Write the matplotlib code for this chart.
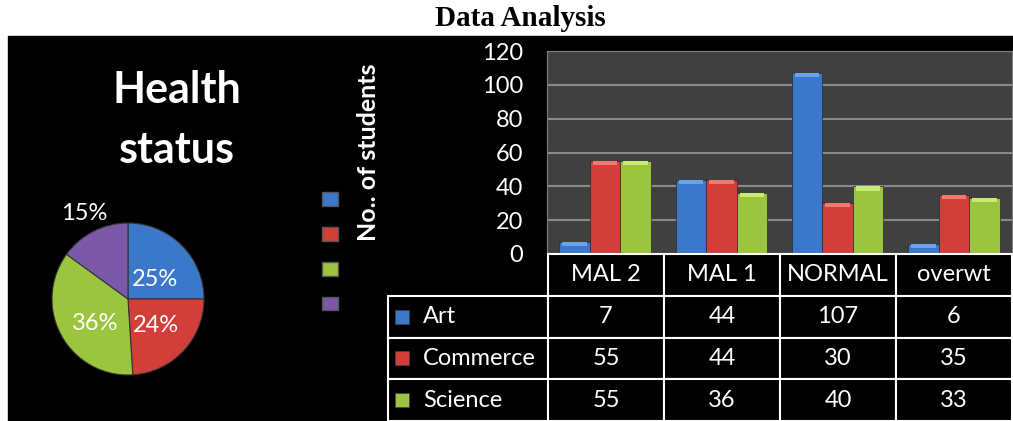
import numpy as np
import matplotlib
matplotlib.use("Agg")
from matplotlib import pyplot as plt
from matplotlib.patches import Rectangle, Patch

W, H = 1013, 421

# pie: health status share
pie_shares = [25, 24, 36, 15]
pie_colors = ['#3b78c9', '#d23f3a', '#9cc53f', '#7b58a8']

# bars / table
categories = ['MAL 2', 'MAL 1', 'NORMAL', 'overwt']
streams = ['Art', 'Commerce', 'Science']
art = [7, 44, 107, 6]
commerce = [55, 44, 30, 35]
science = [55, 36, 40, 33]
bar_colors = ['#3b78c9', '#d23f3a', '#9cc53f']
bar_tops = ['#6aa3e8', '#f07a72', '#c8ec70']
yticks = [0, 20, 40, 60, 80, 100, 120]

plt.rcParams['font.family'] = ['Lato', 'DejaVu Sans']


def fx(px):
    return px / W


def fy(py):
    return 1 - py / H


fig = plt.figure(figsize=(W / 100, H / 100), dpi=100, facecolor='white')

# black slide background
fig.add_artist(Rectangle((fx(8), 0), (W - 8) / W, (H - 36) / H,
                         transform=fig.transFigure, color='black', zorder=0))

fig.text(fx(520), fy(18), 'Data Analysis', family='Liberation Serif', weight='bold',
         fontsize=21, ha='center', va='center', color='black')

### Pie chart
fig.text(fx(177), fy(103), 'Health', color='white', weight='bold', fontsize=31,
         ha='center', va='baseline')
fig.text(fx(177), fy(163), 'status', color='white', weight='bold', fontsize=31,
         ha='center', va='baseline')

r = 76
ax_pie = fig.add_axes([fx(128 - r), fy(299 + r), 2 * r / W, 2 * r / H])
wedges, texts, autotexts = ax_pie.pie(pie_shares, colors=pie_colors, startangle=90,
                                      counterclock=False, autopct='%d%%', pctdistance=0.5,
                                      textprops=dict(color='white', fontsize=17),
                                      wedgeprops=dict(edgecolor='#333333', linewidth=0.8))
ax_pie.set_xlim(-1, 1)
ax_pie.set_ylim(-1, 1)
ax_pie.axis('off')
# nudge the inner labels a bit lower, like the original
for t, dy in zip(autotexts[:3], [-0.1, 0.0, -0.08]):
    px_, py_ = t.get_position()
    t.set_position((px_, py_ + dy))
# smallest slice gets its label outside
w = wedges[3]
mid = np.deg2rad((w.theta1 + w.theta2) / 2)
autotexts[3].set_position((1.27 * np.cos(mid), 1.27 * np.sin(mid)))

ax_pie.legend(handles=[Patch(facecolor=c, edgecolor='#555555') for c in pie_colors],
              labels=[''] * 4, loc='center', bbox_to_anchor=(fx(330), fy(252)),
              bbox_transform=fig.transFigure, frameon=False, fontsize=11,
              handlelength=1.0, handleheight=1.0, labelspacing=1.29,
              handletextpad=0, borderpad=0)

### Bar chart
ax = fig.add_axes([fx(547), fy(254), (1012 - 547) / W, (254 - 51) / H])
ax.set_facecolor('#404040')
x = np.arange(len(categories))
bw = 0.262
for i, (vals, c, ct) in enumerate(zip([art, commerce, science], bar_colors, bar_tops)):
    vals = np.array(vals)
    ax.bar(x + (i - 1) * bw, vals, bw, color=c, edgecolor='#2a2a2a', linewidth=0.5, zorder=3)
    # light bevel on top of each bar
    cap = np.minimum(vals, 2.5)
    ax.bar(x + (i - 1) * bw, cap, bw * 0.8, bottom=vals - cap, color=ct, linewidth=0, zorder=4)
ax.set_xlim(-0.5, len(categories) - 0.5)
ax.set_ylim(0, 120)
ax.set_yticks(yticks)
ax.set_xticks([])
ax.grid(axis='y', color='#8a8a8a', lw=1.5, zorder=1)
ax.tick_params(axis='y', length=0, labelsize=17, labelcolor='white', pad=17)
for s in ['left', 'top', 'right']:
    ax.spines[s].set_color('#808080')
ax.spines['bottom'].set_visible(False)
ax.set_ylabel('No.. of students', color='white', weight='bold', fontsize=18)
ax.yaxis.set_label_coords(-0.36, 0.5)

### Data table under the bars
ax_tab = fig.add_axes([fx(388), 0, (1012 - 388) / W, (H - 254) / H])
ax_tab.axis('off')
col_w = np.array([160, 116, 116, 116, 116], dtype=float)
col_w = col_w / col_w.sum()
cell_text = [[''] + categories]
for name, vals in zip(streams, [art, commerce, science]):
    cell_text.append([name] + [str(v) for v in vals])
tab = ax_tab.table(cellText=cell_text, colWidths=col_w, cellLoc='center', bbox=[0, 0, 1, 1])
tab.auto_set_font_size(False)
tab.set_fontsize(17)
for (row, col), cell in tab.get_celld().items():
    cell.set_facecolor('black')
    cell.set_edgecolor('white')
    cell.set_linewidth(1.5)
    cell.get_text().set_color('white')
    if row == 0 and col == 0:
        cell.visible_edges = ''
    if col == 0 and row > 0:
        cell.get_text().set_ha('left')
        cell._loc = 'left'
        cell.PAD = 0.22
# colour keys in front of stream names
n_rows = len(cell_text)
for i, c in enumerate(bar_colors):
    yc = 1 - (i + 1.5) / n_rows
    ax_tab.scatter([col_w[0] * 0.09], [yc], marker='s', s=110, color=c,
                   edgecolor='#444444', linewidth=0.5, zorder=5, clip_on=False)
ax_tab.set_xlim(0, 1)
ax_tab.set_ylim(0, 1)

fig.savefig('out.png', dpi=100, facecolor='white')
